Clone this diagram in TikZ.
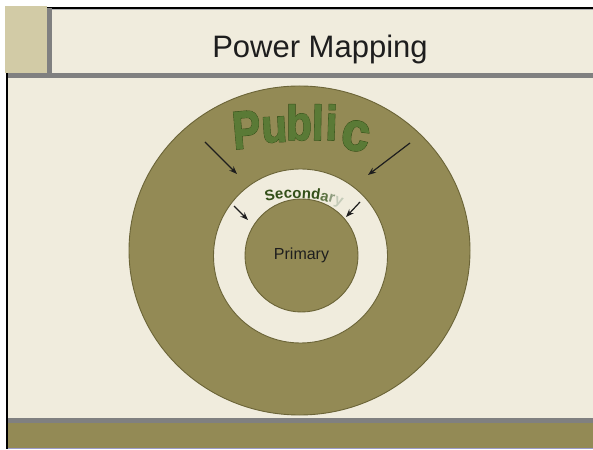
\documentclass[tikz,border=0pt]{standalone}
\usepackage{fontspec}
\setmainfont{Liberation Sans}
\newfontfamily\rimfont{Liberation Sans Bold}[FakeBold=3]
\newfontfamily\facefont{Liberation Sans Bold}[FakeBold=1.5]
\usetikzlibrary{decorations.text,arrows.meta}
\definecolor{cream}{HTML}{F0ECDD}
\definecolor{olive}{HTML}{938A55}
\definecolor{olivedark}{HTML}{6B6437}
\definecolor{tanbox}{HTML}{D2CBA6}
\definecolor{bargray}{HTML}{808080}
\definecolor{ink}{HTML}{1E1E1E}
\definecolor{wordrimgreen}{HTML}{2C4612}
\definecolor{wordgreen}{HTML}{5A7A36}
\definecolor{secgreen}{HTML}{34501A}
\definecolor{secmid}{HTML}{5E7444}
\definecolor{seclight}{HTML}{8E9C7E}
\definecolor{secpale}{HTML}{C4CBB8}
\newcommand\secfont{\fontsize{15}{15}\selectfont\bfseries}
\tikzset{
  ring/.style={circle, draw=olivedark, line width=0.9pt, inner sep=0pt},
  pointer/.style={draw=ink, line width=1.2pt, -{Stealth[length=8pt,width=6pt]}},
  wordrim/.style={anchor=base, inner sep=0pt, text=wordrimgreen,
    font=\rimfont\fontsize{42}{42}\selectfont},
  wordface/.style={anchor=base, inner sep=0pt, text=wordgreen,
    font=\facefont\fontsize{42}{42}\selectfont},
}
% one arched letter: name, x, y, rotation, xscale, yscale, glyph
\newcommand\arcletter[7]{%
  \node[wordrim, rotate=#4] (#1rim) at (#2,#3) {\scalebox{#5}[#6]{#7}};
  \node[wordface, rotate=#4] (#1) at (#2,#3) {\scalebox{#5}[#6]{#7}};
}
\begin{document}
\begin{tikzpicture}[x=1pt,y=1pt]
\useasboundingbox (0,0) rectangle (593,449);
\fill[white] (0,0) rectangle (593,449);
% slide body and frame
\fill[cream] (7,0) rectangle (593,441);
\fill[black] (6,0) rectangle (8,441.5);
\fill[black] (6,439.5) rectangle (593,441.5);
\fill[gray!60] (8,438.5) rectangle (593,439.5);
% title band
\fill[tanbox] (5,376) rectangle (47,443);
\fill[bargray] (47,371) rectangle (52,441);
\fill[bargray] (8,371) rectangle (593,376);
\node[anchor=base, text=ink, font=\fontsize{31}{31}\selectfont] (title) at (320,391) {Power Mapping};
% footer band
\fill[bargray] (8,26) rectangle (593,31);
\fill[olive] (8,1) rectangle (593,26);
\fill[gray!70!blue!60] (8,0) rectangle (593,1);
% concentric rings
\draw[olivedark, line width=0.9pt, fill=olive] (299.5,198.5) ellipse [x radius=170.5, y radius=164.5];
\node[ring, fill=cream, minimum size=174pt] (secondary) at (300.5,193) {};
\node[ring, fill=olive, minimum size=113pt] (primary) at (301.5,193.5) {};
\node[text=ink, font=\fontsize{16}{16}\selectfont] (primarylabel) at (primary.center) {Primary};
% arched "Public"
\arcletter{pa}{248}{301}{5}{1}{1.27}{P}
\arcletter{pb}{275}{307}{3}{1}{1.12}{u}
\arcletter{pc}{299}{309}{0}{1}{1.16}{b}
\arcletter{pd}{317.5}{309}{-1}{1}{1.16}{l}
\arcletter{pe}{331}{309}{-2}{1}{1.16}{i}
\arcletter{pf}{353}{299}{-10}{1.2}{1.3}{c}
% arched "Secondary"
\path[decorate, decoration={text along path, text align=center,
  text={|\secfont\color{secgreen}|Second|\secfont\color{secmid}|a|\secfont\color{seclight}|r|\secfont\color{secpale}|y}}]
  (297,126) ++(116.8:125) arc[start angle=116.8, end angle=56.8, radius=125];
% arrows pointing inward
\coordinate (ol) at (205,307);
\coordinate (olend) at (237,275);
\coordinate (or) at (410,306);
\coordinate (orend) at (368,274);
\coordinate (il) at (234,243);
\coordinate (ilend) at (248,229);
\coordinate (ir) at (360,247);
\coordinate (irend) at (346,232);
\draw[pointer] (ol) -- (olend);
\draw[pointer] (or) -- (orend);
\draw[pointer] (il) -- (ilend);
\draw[pointer] (ir) -- (irend);
\end{tikzpicture}
\end{document}
